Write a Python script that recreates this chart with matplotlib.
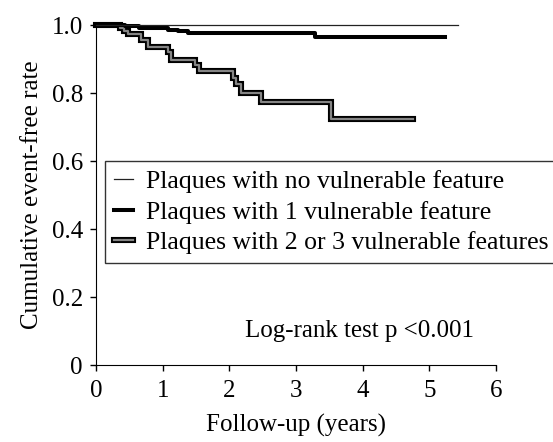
import matplotlib
matplotlib.use("Agg")
import matplotlib.pyplot as plt

# Kaplan-Meier curves (time in years, event-free rate)
t0 = [0, 5.43]
s0 = [1.0, 1.0]

t1 = [0, 0.43, 0.65, 1.08, 1.23, 1.38, 3.28, 5.23]
s1 = [1.0, 0.996, 0.992, 0.987, 0.982, 0.977, 0.964, 0.964]

t2 = [0, 0.36, 0.42, 0.48, 0.68, 0.78, 1.08, 1.12, 1.48, 1.55,
      2.05, 2.10, 2.18, 2.48, 3.53, 4.75]
s2 = [1.0, 0.991, 0.983, 0.974, 0.957, 0.935, 0.921, 0.898, 0.884, 0.864,
      0.845, 0.826, 0.801, 0.774, 0.725, 0.725]

labels = ["Plaques with no vulnerable feature",
          "Plaques with 1 vulnerable feature",
          "Plaques with 2 or 3 vulnerable features"]
xticks = [0, 1, 2, 3, 4, 5, 6]
yticks = [0, 0.2, 0.4, 0.6, 0.8, 1.0]
ytick_labels = ["0", "0.2", "0.4", "0.6", "0.8", "1.0"]

plt.rcParams["font.family"] = ["Liberation Serif", "DejaVu Serif"]
plt.rcParams["font.size"] = 18

fig = plt.figure(figsize=(5.53, 4.42), dpi=100)
ax = fig.add_axes([0.1736, 0.1742, 0.7233, 0.769])

# group with 2 or 3 features: black outline with gray core
l2a, = ax.step(t2, s2, where="post", color="black", lw=4.4, clip_on=False,
               solid_joinstyle="miter", zorder=3)
l2b, = ax.step(t2, s2, where="post", color="#858585", lw=1.6, clip_on=False,
               zorder=4)
l1, = ax.step(t1, s1, where="post", color="black", lw=2.9, clip_on=False,
              zorder=5)
l0, = ax.step(t0, s0, where="post", color="#222222", lw=0.9, clip_on=False,
              zorder=6)

ax.set_xlim(0, 6)
ax.set_ylim(0, 1.0)
ax.set_xticks(xticks)
ax.set_yticks(yticks)
ax.set_yticklabels(ytick_labels)
ax.spines["top"].set_visible(False)
ax.spines["right"].set_visible(False)
ax.tick_params(direction="out", length=4.5, width=1)
ax.tick_params(axis="x", pad=6)
ax.tick_params(axis="y", pad=5)

ax.set_xlabel("Follow-up (years)", labelpad=9)
ax.set_ylabel("Cumulative event-free rate", labelpad=6)

ax.text(3.96, 0.1, "Log-rank test p <0.001", ha="center", va="center")

leg = ax.legend([l0, l1, (l2a, l2b)], labels, loc="upper left",
                bbox_to_anchor=(0.022, 0.6), fancybox=False,
                edgecolor="#333333", framealpha=1, handlelength=0.75,
                handletextpad=0.5, labelspacing=0.3, borderpad=0.35,
                borderaxespad=0, prop={"size": 18.5})
leg.get_frame().set_linewidth(1.0)

fig.savefig("out.png", dpi=100)
